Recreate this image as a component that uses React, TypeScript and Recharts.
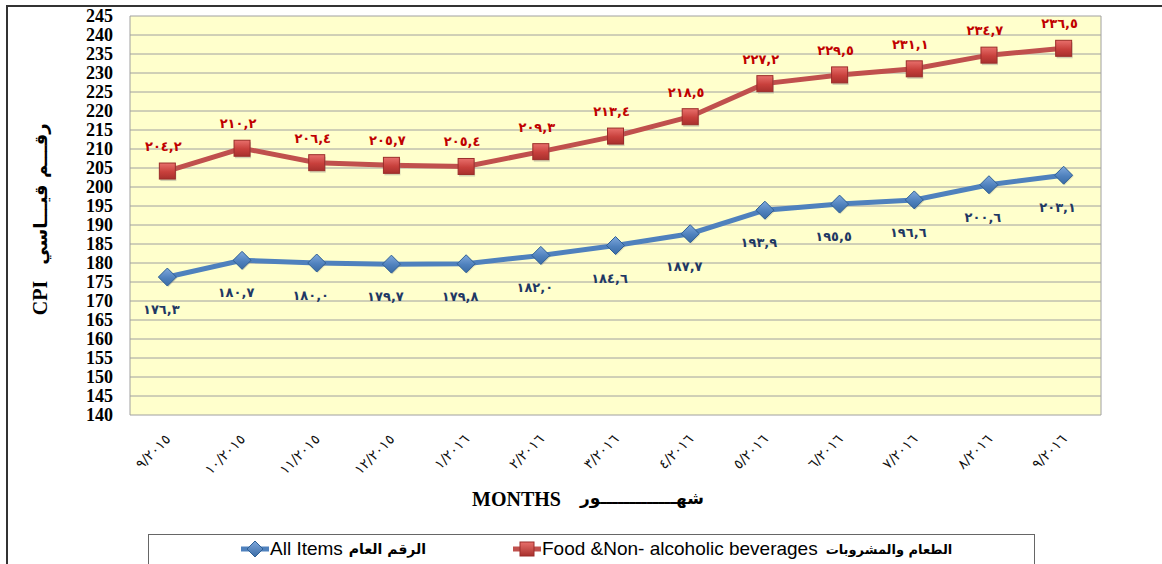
import { CartesianGrid, LabelList, Line, LineChart, XAxis, YAxis } from "recharts";

const months = [
  "٩/٢٠١٥", "١٠/٢٠١٥", "١١/٢٠١٥", "١٢/٢٠١٥", "١/٢٠١٦", "٢/٢٠١٦", "٣/٢٠١٦",
  "٤/٢٠١٦", "٥/٢٠١٦", "٦/٢٠١٦", "٧/٢٠١٦", "٨/٢٠١٦", "٩/٢٠١٦",
];
const allItems = [176.3, 180.7, 180.0, 179.7, 179.8, 182.0, 184.6, 187.7, 193.9, 195.5, 196.6, 200.6, 203.1];
const foodBev = [204.2, 210.2, 206.4, 205.7, 205.4, 209.3, 213.4, 218.5, 227.2, 229.5, 231.1, 234.7, 236.5];
const yTicks = [140, 145, 150, 155, 160, 165, 170, 175, 180, 185, 190, 195, 200, 205, 210, 215, 220, 225, 230, 235, 240, 245];

const data = months.map((m, i) => ({ month: m, all: allItems[i], food: foodBev[i] }));
const bandEdges = months.map((_, i) => i).concat(months.length);

const RED = "#C0504D";
const BLUE = "#4F81BD";
const ARABIC_FONT = "'DejaVu Sans', sans-serif";

// western digits -> arabic-indic, decimal point shown as comma
const toArabic = (v: number) =>
  v.toFixed(1).replace(/\d/g, (d) => "٠١٢٣٤٥٦٧٨٩"[Number(d)]).replace(".", ",");

function SquareDot({ cx, cy }: any) {
  if (cx == null || cy == null) return null;
  return (
    <g>
      <rect x={cx - 7} y={cy - 6} width={16} height={16} fill="#7f7f7f" opacity={0.35} />
      <rect x={cx - 8} y={cy - 8} width={16} height={16} fill="url(#redGrad)" stroke="#9B2D2A" strokeWidth={1} />
    </g>
  );
}

function DiamondDot({ cx, cy }: any) {
  if (cx == null || cy == null) return null;
  return (
    <g>
      <polygon points={`${cx + 1},${cy - 8} ${cx + 10},${cy + 1} ${cx + 1},${cy + 10} ${cx - 8},${cy + 1}`} fill="#7f7f7f" opacity={0.3} />
      <polygon points={`${cx},${cy - 9} ${cx + 9},${cy} ${cx},${cy + 9} ${cx - 9},${cy}`} fill="url(#blueGrad)" stroke="#2E5F95" strokeWidth={1} />
    </g>
  );
}

function MonthTick({ x, y, payload }: any) {
  return (
    <g transform={`translate(${x + 4},${y + 25})`}>
      <text textAnchor="end" transform="rotate(-45)" fontFamily={ARABIC_FONT} fontSize={14} fill="#111">
        {payload.value}
      </text>
    </g>
  );
}

const makeLabel = (color: string, dx: number, dy: number) => (props: any) => {
  const { x, y, value } = props;
  return (
    <text x={x + dx} y={y + dy} textAnchor="middle" fontFamily={ARABIC_FONT} fontWeight="bold" fontSize={13} fill={color}>
      {toArabic(value)}
    </text>
  );
};

export default function App() {
  return (
    <div style={{ position: "absolute", left: 0, top: 0, width: 1162, height: 564, overflow: "hidden", background: "#fff" }}>
      <div style={{ position: "absolute", left: 6, top: 5, width: 1170, height: 620, border: "2px solid #333", boxSizing: "border-box" }} />
      <div style={{ position: "absolute", left: 0, top: 0 }}>
        <LineChart width={1162} height={564} data={data} margin={{ top: 16, right: 61, left: 70, bottom: 0 }}>
          <defs>
            <linearGradient id="redGrad" x1="0" y1="0" x2="0" y2="1">
              <stop offset="0%" stopColor="#E8706C" />
              <stop offset="55%" stopColor="#C8403C" />
              <stop offset="100%" stopColor="#A8302D" />
            </linearGradient>
            <linearGradient id="blueGrad" x1="0" y1="0" x2="0" y2="1">
              <stop offset="0%" stopColor="#7FA8DC" />
              <stop offset="55%" stopColor="#4F81BD" />
              <stop offset="100%" stopColor="#3A6BA5" />
            </linearGradient>
          </defs>
          <CartesianGrid xAxisId="grid" stroke="#A0A0A0" strokeWidth={1} fill="#FFFFCC" fillOpacity={1} />
          <XAxis
            xAxisId="grid"
            type="number"
            domain={[0, months.length]}
            ticks={bandEdges}
            interval={0}
            height={0}
            tick={false}
            axisLine={{ stroke: "#000", strokeWidth: 3 }}
            tickLine={{ stroke: "#000", strokeWidth: 2 }}
            tickSize={5}
            allowDataOverflow
          />
          <XAxis
            dataKey="month"
            scale="band"
            interval={0}
            height={149}
            axisLine={false}
            tickLine={false}
            tickSize={0}
            tickMargin={0}
            tick={<MonthTick />}
          />
          <YAxis
            width={60}
            domain={[140, 245]}
            ticks={yTicks}
            interval={0}
            axisLine={false}
            tickLine={false}
            tickSize={15}
            tick={{ fontFamily: "'Liberation Serif', serif", fontWeight: "bold", fontSize: 18, fill: "#000" }}
          />
          <Line dataKey="food" stroke={RED} strokeWidth={5} dot={<SquareDot />} activeDot={false} isAnimationActive={false}>
            <LabelList dataKey="food" content={makeLabel("#C00000", -4, -20)} />
          </Line>
          <Line dataKey="all" stroke={BLUE} strokeWidth={5} dot={<DiamondDot />} activeDot={false} isAnimationActive={false}>
            <LabelList dataKey="all" content={makeLabel("#1F3864", -6, 37)} />
          </Line>
        </LineChart>
      </div>

      {/* y-axis titles */}
      <div style={{ position: "absolute", left: 40, top: 298, transform: "translate(-50%,-50%) rotate(-90deg)", fontFamily: "'Liberation Serif', serif", fontWeight: "bold", fontSize: 20, whiteSpace: "nowrap" }}>
        CPI
      </div>
      <div style={{ position: "absolute", left: 40, top: 194, transform: "translate(-50%,-50%) rotate(-90deg)", fontFamily: ARABIC_FONT, fontWeight: "bold", fontSize: 18, whiteSpace: "nowrap" }}>
        رقـــم قيـــاسي
      </div>

      {/* x-axis title */}
      <div style={{ position: "absolute", left: 472, top: 488, fontFamily: "'Liberation Serif', serif", fontWeight: "bold", fontSize: 20, whiteSpace: "nowrap" }}>
        MONTHS
      </div>
      <div style={{ position: "absolute", left: 580, top: 488, fontFamily: ARABIC_FONT, fontWeight: "bold", fontSize: 17, whiteSpace: "nowrap" }}>
        شهـــــــــــــور
      </div>

      {/* legend */}
      <div style={{ position: "absolute", left: 148, top: 534, width: 887, height: 60, border: "1px solid #666", boxSizing: "border-box", background: "#fff" }}>
        <div style={{ position: "absolute", left: 92, top: 3, display: "flex", alignItems: "center", whiteSpace: "nowrap" }}>
          <svg width={28} height={18}>
            <line x1={0} y1={9} x2={28} y2={9} stroke={BLUE} strokeWidth={5} />
            <polygon points="14,1 22,9 14,17 6,9" fill="url(#lgBlue)" stroke="#2E5F95" />
            <defs>
              <linearGradient id="lgBlue" x1="0" y1="0" x2="0" y2="1">
                <stop offset="0%" stopColor="#7FA8DC" />
                <stop offset="100%" stopColor="#3A6BA5" />
              </linearGradient>
            </defs>
          </svg>
          <span style={{ fontFamily: "'Liberation Sans', sans-serif", fontSize: 19, marginLeft: 1 }}>All Items</span>
          <span style={{ fontFamily: ARABIC_FONT, fontWeight: "bold", fontSize: 14, marginLeft: 6 }}>الرقم العام</span>
        </div>
        <div style={{ position: "absolute", left: 364, top: 3, display: "flex", alignItems: "center", whiteSpace: "nowrap" }}>
          <svg width={28} height={18}>
            <line x1={0} y1={9} x2={28} y2={9} stroke={RED} strokeWidth={5} />
            <rect x={7} y={2} width={14} height={14} fill="url(#lgRed)" stroke="#9B2D2A" />
            <defs>
              <linearGradient id="lgRed" x1="0" y1="0" x2="0" y2="1">
                <stop offset="0%" stopColor="#E8706C" />
                <stop offset="100%" stopColor="#A8302D" />
              </linearGradient>
            </defs>
          </svg>
          <span style={{ fontFamily: "'Liberation Sans', sans-serif", fontSize: 19, marginLeft: 1 }}>Food &amp;Non- alcoholic beverages</span>
          <span style={{ fontFamily: ARABIC_FONT, fontWeight: "bold", fontSize: 13, marginLeft: 8 }}>الطعام والمشروبات</span>
        </div>
      </div>
    </div>
  );
}
